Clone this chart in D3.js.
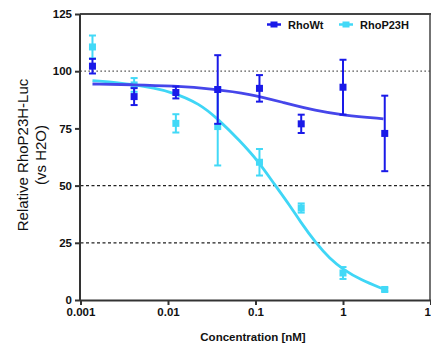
<!DOCTYPE html>
<html lang="en">
<head>
  <meta charset="utf-8">
  <title>RhoP23H-Luc dose response</title>
  <script src="https://d3js.org/d3.v7.min.js"></script>
  <style>
    body { margin: 0; background: #fff; }
    text { font-family: "Liberation Sans", Arial, sans-serif; }
  </style>
</head>
<body>
<svg width="431" height="346"></svg>
<script>
// concentrations (nM), 3-fold dilution
var conc = [0.00137, 0.0041, 0.0123, 0.037, 0.111, 0.333, 1, 3];

// RhoWt mean and error
var wtMean = [102.2, 88.9, 90.7, 92.0, 92.5, 77.0, 93.0, 72.8];
var wtErr  = [3.2, 3.7, 2.6, 15.0, 5.8, 4.0, 12.0, 16.5];

// RhoP23H mean and error
var mutMean = [110.6, 94.0, 77.2, 75.8, 60.2, 40.2, 11.8, 4.6];
var mutErr  = [5.0, 3.0, 4.0, 17.0, 5.8, 2.0, 2.6, 0.8];

// fitted curves
var wtCurveX = [0.00137, 0.004, 0.0114, 0.034, 0.087, 0.2, 0.5, 1.0, 2.9];
var wtCurveY = [94.4, 94.1, 93.6, 92.2, 90.0, 86.5, 82.6, 80.8, 79.2];
var mutCurveX = [0.00137, 0.004, 0.0114, 0.0232, 0.036, 0.0665, 0.11, 0.164, 0.248, 0.323, 0.491, 0.71, 1.0, 1.58, 2.9];
var mutCurveY = [95.9, 94.4, 91.0, 85.6, 79.6, 69.6, 60.2, 50.6, 41.2, 34.4, 24.8, 18.0, 13.4, 8.9, 4.8];

var xTicks = [0.001, 0.01, 0.1, 1, 10];
var xTickLabels = ["0.001", "0.01", "0.1", "1", "10"];
var yTicks = [0, 25, 50, 75, 100, 125];

var svg = d3.select("svg");

var x = d3.scaleLog().domain([0.001, 10]).range([80.5, 430.5]);
var y = d3.scaleLinear().domain([0, 125]).range([300, 14]);

var blue = "#1a1ae8", blueLine = "#4646ea";
var cyan = "#42d9f7", cyanLine = "#3fd6f6";

// reference lines
svg.append("line")
    .attr("x1", x(0.001)).attr("x2", x(10))
    .attr("y1", y(100)).attr("y2", y(100))
    .attr("stroke", "#333").attr("stroke-width", 1.2)
    .attr("stroke-dasharray", "1.3,2.7");
[50, 25].forEach(function(v) {
  svg.append("line")
      .attr("x1", x(0.001)).attr("x2", x(10))
      .attr("y1", y(v)).attr("y2", y(v))
      .attr("stroke", "#222").attr("stroke-width", 1.2)
      .attr("stroke-dasharray", "3,2.5");
});

// frame top / right
svg.append("line").attr("x1", 80).attr("x2", 431).attr("y1", y(125)).attr("y2", y(125))
    .attr("stroke", "#444").attr("stroke-width", 2);
svg.append("line").attr("x1", 430).attr("x2", 430).attr("y1", y(125)).attr("y2", y(0))
    .attr("stroke", "#444").attr("stroke-width", 1.5);

// axes
var yAxis = svg.append("g")
    .attr("transform", "translate(80,0)")
    .call(d3.axisLeft(y).tickValues(yTicks).tickSize(5).tickPadding(3));
var xAxis = svg.append("g")
    .attr("transform", "translate(0,300)")
    .call(d3.axisBottom(x).tickValues(xTicks).tickSize(5).tickPadding(3)
      .tickFormat(function(d, i) { return xTickLabels[i]; }));
[yAxis, xAxis].forEach(function(a) {
  a.select(".domain").attr("stroke", "#333").attr("stroke-width", 2);
  a.selectAll(".tick line").attr("stroke", "#333").attr("stroke-width", 2);
  a.selectAll(".tick text").attr("fill", "#111")
      .style("font-size", "11.5px").style("font-weight", "bold")
      .style("font-family", "'Liberation Sans', Arial, sans-serif");
});
yAxis.select(".domain").attr("d", "M0," + y(0) + "V" + y(125));

var line = d3.line()
    .x(function(d) { return x(d[0]); })
    .y(function(d) { return y(d[1]); })
    .curve(d3.curveBasis);

function drawSeries(cx, mean, err, col, curveX, curveY, lcol) {
  svg.append("path")
      .datum(curveX.map(function(c, i) { return [c, curveY[i]]; }))
      .attr("d", line)
      .attr("fill", "none")
      .attr("stroke", lcol)
      .attr("stroke-width", 2.8);

  var g = svg.append("g");
  cx.forEach(function(c, i) {
    var px = x(c), top = y(mean[i] + err[i]), bot = y(mean[i] - err[i]);
    g.append("line").attr("x1", px).attr("x2", px).attr("y1", top).attr("y2", bot)
        .attr("stroke", col).attr("stroke-width", 2);
    [top, bot].forEach(function(py) {
      g.append("line").attr("x1", px - 3.5).attr("x2", px + 3.5).attr("y1", py).attr("y2", py)
          .attr("stroke", col).attr("stroke-width", 2);
    });
    g.append("rect")
        .attr("x", px - 3.5).attr("y", y(mean[i]) - 3.5)
        .attr("width", 7).attr("height", 7)
        .attr("fill", col);
  });
}

drawSeries(conc, mutMean, mutErr, cyan, mutCurveX, mutCurveY, cyanLine);
drawSeries(conc, wtMean, wtErr, blue, wtCurveX, wtCurveY, blueLine);

// legend
var legend = [["RhoWt", blue, 267], ["RhoP23H", cyan, 339]];
legend.forEach(function(l) {
  svg.append("line").attr("x1", l[2]).attr("x2", l[2] + 14).attr("y1", 24.5).attr("y2", 24.5)
      .attr("stroke", l[1]).attr("stroke-width", 2.5);
  svg.append("rect").attr("x", l[2] + 3.5).attr("y", 21.5).attr("width", 7).attr("height", 6)
      .attr("fill", l[1]);
  svg.append("text").attr("x", l[2] + 21).attr("y", 28.5)
      .style("font-size", "11px").style("font-weight", "bold").attr("fill", "#111")
      .text(l[0]);
});

// axis titles
svg.append("text")
    .attr("x", 253).attr("y", 341)
    .attr("text-anchor", "middle")
    .style("font-size", "11.5px").style("font-weight", "bold").attr("fill", "#111")
    .text("Concentration [nM]");

var yt = svg.append("text")
    .attr("transform", "translate(0,155) rotate(-90)")
    .attr("text-anchor", "middle")
    .style("font-size", "15px").attr("fill", "#111");
yt.append("tspan").attr("x", 0).attr("y", 28).text("Relative RhoP23H-Luc");
yt.append("tspan").attr("x", 0).attr("y", 46).text("(vs H2O)");
</script>
</body>
</html>
